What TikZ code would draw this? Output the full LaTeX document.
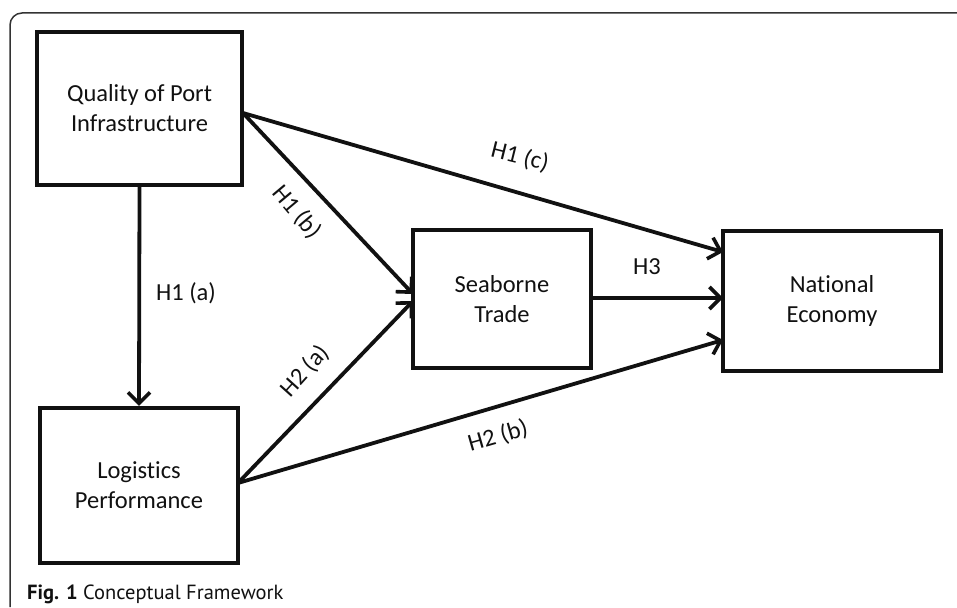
\documentclass[tikz,border=0pt]{standalone}
\usepackage{fontspec}
\setmainfont{Carlito}[Ligatures=NoCommon]
\newfontfamily\capfont{PT Sans}
\usetikzlibrary{arrows.meta}
\definecolor{ink}{HTML}{111111}
\tikzset{
  box/.style={draw=ink, line width=4.2pt, minimum width=#1, align=center, inner sep=0pt, font=\fontsize{24.5}{30}\selectfont, text=ink},
  conn/.style={draw=ink, line width=3.8pt, -{Straight Barb[length=11pt,width=22pt,line width=3.6pt]}},
  lab/.style={font=\fontsize{24.5}{30}\selectfont, text=ink, inner sep=0pt}
}
\begin{document}
\begin{tikzpicture}[x=1pt,y=-1pt]
\useasboundingbox (0,0) rectangle (957,607);
\draw[line width=1.5pt, draw=black!80, rounded corners=12pt] (10,607) -- (10,13) -- (957,13);

\node[box=205pt, minimum height=153pt] (qpi) at (139.5,108.5) {Quality of Port\\Infrastructure};
\node[box=198pt, minimum height=155pt] (lp) at (139,485.5) {Logistics\\Performance};
\node[box=178pt, minimum height=138pt] (st) at (502,299) {Seaborne\\Trade};
\node[box=218pt, minimum height=140pt] (ne) at (832,301) {National\\Economy};

\coordinate (qo) at (243,113);
\coordinate (lo) at (238,483);
\coordinate (sin1) at (413,294);
\coordinate (sin2) at (413,301);
\coordinate (nin1) at (723,252);
\coordinate (nin2) at (723,298);
\coordinate (nin3) at (723,340);

\draw[conn] (qpi.south) -- (lp.north);
\draw[conn] (qo) -- (sin1);
\draw[conn] (qo) -- (nin1);
\draw[conn] (lo) -- (sin2);
\draw[conn] (lo) -- (nin3);
\draw[conn] (st.east |- nin2) -- (nin2);

\node[lab] (h1a) at (186,293) {H1 (a)};
\node[lab, rotate=-50] (h1b) at (297,212) {H1 (b)};
\node[lab, rotate=-14] (h1c) at (520,157) {H1 (c)};
\node[lab, rotate=48] (h2a) at (305,371) {H2 (a)};
\node[lab, rotate=16] (h2b) at (498,436) {H2 (b)};
\node[lab] (h3) at (647,267) {H3};

\node[anchor=base west, inner sep=0pt, text=ink, font=\capfont\fontsize{20.5}{24}\selectfont] (cap) at (27,599) {\textbf{Fig. 1} Conceptual Framework};
\end{tikzpicture}
\end{document}
